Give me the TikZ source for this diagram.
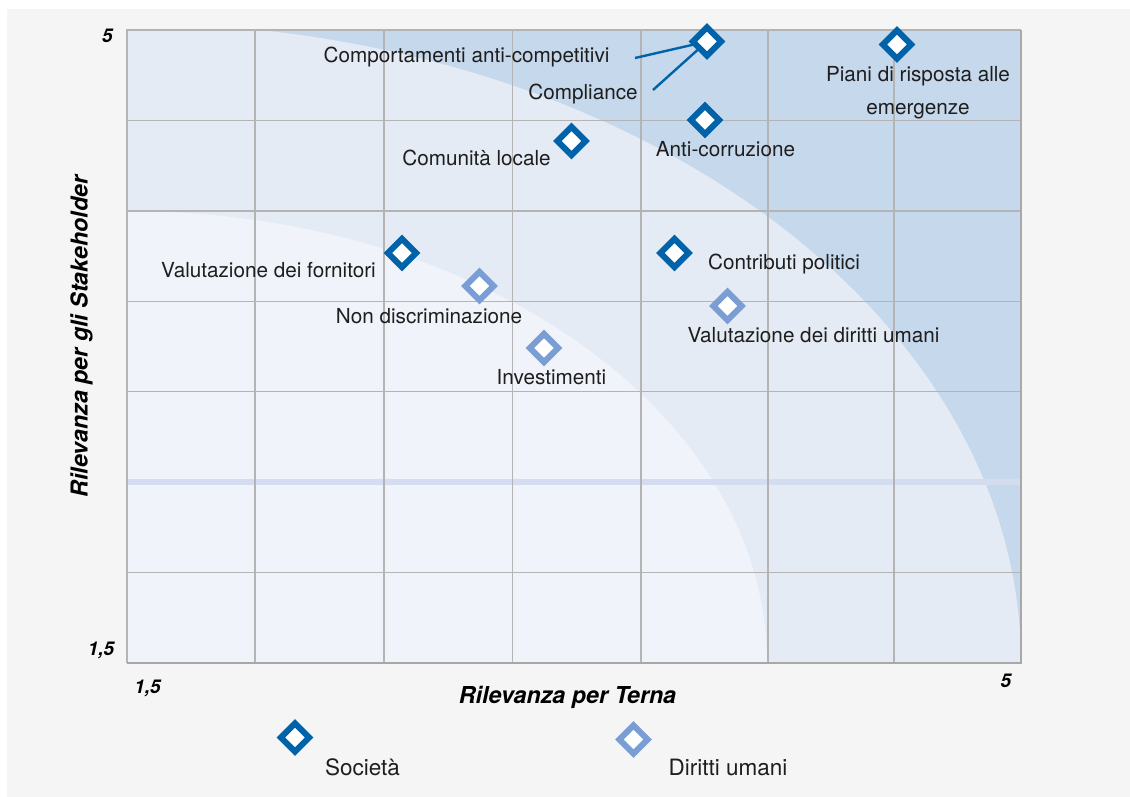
\documentclass[tikz,border=0pt]{standalone}
\usepackage{fontspec}
\setmainfont{TeX Gyre Heros}
\definecolor{bgray}{HTML}{F5F5F5}
\definecolor{zlight}{HTML}{F0F4FA}
\definecolor{zmid}{HTML}{E4EBF5}
\definecolor{zdark}{HTML}{C6D8EC}
\definecolor{gridc}{HTML}{B4B4B4}
\definecolor{bordc}{HTML}{A8A8A8}
\definecolor{bandc}{HTML}{D4DCEF}
\definecolor{mkdark}{HTML}{0062A8}
\definecolor{mklight}{HTML}{7A9ED3}
\definecolor{txt}{HTML}{1E1E1E}
\begin{document}
\begin{tikzpicture}[x=1pt,y=-1pt,
  lbl/.style={text=txt, font=\fontsize{20.7}{24}\selectfont, inner sep=0pt, anchor=base},
  leglbl/.style={lbl, font=\fontsize{22.5}{26}\selectfont},
  axl/.style={text=black, font=\fontsize{23.3}{26}\selectfont\bfseries\itshape, inner sep=0pt, anchor=base},
  tick/.style={text=black, font=\fontsize{19}{22}\selectfont\bfseries\itshape, inner sep=0pt, anchor=base},
  mk/.style={draw=mkdark, fill=white, line width=6pt, rotate=45, minimum size=20pt, inner sep=0pt, shape=rectangle},
  mkl/.style={mk, draw=mklight},
  lead/.style={draw=mkdark, line width=2.4pt},
  gridl/.style={draw=gridc, line width=1.3pt}]
\useasboundingbox (0,0) rectangle (1130,797);
\fill[white] (0,0) rectangle (1130,797);
\fill[bgray] (7,9) rectangle (1130,797);
% zones
\begin{scope}
  \clip (127,30) rectangle (1021,663);
  \fill[zdark] (127,30) rectangle (1021,663);
  \fill[zmid] (127,663) ellipse [x radius=894pt, y radius=640pt];
  \fill[zlight] (127,663) ellipse [x radius=640pt, y radius=452pt];
\end{scope}
\draw[bandc, line width=6pt] (127,482) -- (1021,482);
% grid
\foreach \gx in {255,384,512.5,641,768,894}
  \draw[gridl] (\gx,30) -- (\gx,663);
\foreach \gy in {120.5,211,301.3,391.7,572.6}
  \draw[gridl] (127,\gy) -- (1021,\gy);
\draw[gridl] (127,663) -- (127,30) -- (1021,30);
\draw[bordc, line width=2pt] (127,663) -- (1021,663) -- (1021,30);
% point positions
\coordinate (p1) at (707,41.5);
\coordinate (c1) at (635,58);
\coordinate (c2) at (653,90);
\draw[lead] (c1) -- (p1);
\draw[lead] (c2) -- (p1);
% markers
\node[mk] (d1) at (p1) {};
\node[mk] (d2) at (897,44.5) {};
\node[mk] (d3) at (705,120) {};
\node[mk] (d4) at (571.5,141) {};
\node[mk] (d5) at (402,253) {};
\node[mk] (d6) at (674.5,253) {};
\node[mkl] (d7) at (479.5,286) {};
\node[mkl] (d8) at (727.5,306) {};
\node[mkl] (d9) at (544,348) {};
% labels
\node[lbl] (t1) at (466.5,63) {Comportamenti anti-competitivi};
\node[lbl] (t2) at (583,100) {Compliance};
\node[lbl] (t3) at (918,82) {Piani di risposta alle};
\node[lbl] (t3b) at (918,115) {emergenze};
\node[lbl] (t4) at (725.5,157) {Anti-corruzione};
\node[lbl] (t5) at (476.5,165) {Comunità locale};
\node[lbl] (t6) at (268.5,277) {Valutazione dei fornitori};
\node[lbl] (t7) at (784,269) {Contributi politici};
\node[lbl] (t8) at (429,323) {Non discriminazione};
\node[lbl] (t9) at (813.5,342) {Valutazione dei diritti umani};
\node[lbl] (t10) at (551.5,384) {Investimenti};
% axes
\node[tick] (y5) at (107.5,43) {5};
\node[tick] (y15) at (101,655) {1,5};
\node[tick] (x15) at (147.5,693) {1,5};
\node[tick] (x5) at (1006,687) {5};
\node[axl] (xt) at (567.5,703) {Rilevanza per Terna};
\node[axl, rotate=90] (yt) at (87.5,336.5) {Rilevanza per gli Stakeholder};
% legend
\node[mk] (l1) at (295,737.5) {};
\node[mkl] (l2) at (633.5,739.5) {};
\node[leglbl] (lt1) at (362.5,775) {Società};
\node[leglbl] (lt2) at (728,775) {Diritti umani};
\end{tikzpicture}
\end{document}
